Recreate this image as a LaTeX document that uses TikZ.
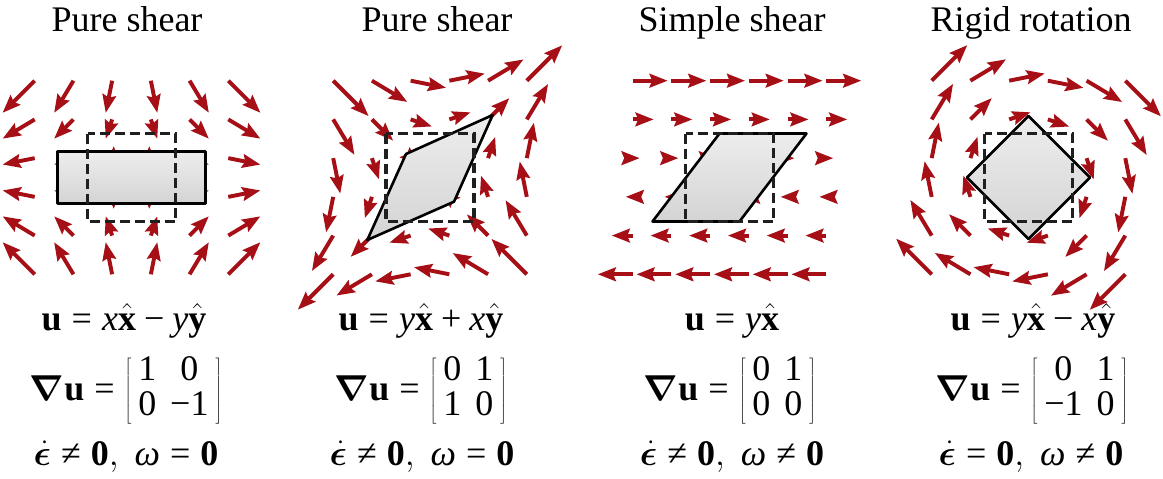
\RequirePackage{fix-cm}
\documentclass[tikz,border=0pt]{standalone}
\usepackage{bm}
\usepackage{fontspec}
\setmainfont{Liberation Serif}
\usetikzlibrary{arrows.meta}
\definecolor{arrred}{RGB}{165,15,21}
\newcommand\bigtxt{\fontsize{36}{43}\selectfont}
\newcommand\meq{\mathrel{\mbox{=}}}
\newcommand\mne{\mathrel{\mbox{≠}}}
\newcommand\mmi{\mathbin{\mbox{−}}}
\newcommand\mpl{\mathbin{\mbox{+}}}
\tikzset{
  vec/.style={draw=arrred, line width=3.9pt, -{Stealth[length=18pt,width=13.5pt,inset=2.5pt]}},
  body/.style={draw=black, line width=2.6pt, line join=round, top color=gray!14, bottom color=gray!34},
  refsq/.style={draw=black!88, line width=3.6pt, dash pattern=on 10pt off 5pt},
  ttl/.style={anchor=base, inner sep=0pt, font=\bigtxt},
  eqn/.style={anchor=base, inner sep=0pt, font=\bigtxt},
}
% vector field: #1 cx, #2 cy, #3 scale, #4 ux, #5 uy (in terms of \X, \Y)
\newcommand\vfield[5]{%
  \foreach \X in {-2.2,-1.32,-0.44,0.44,1.32,2.2}{%
    \foreach \Y in {-2.2,-1.32,-0.44,0.44,1.32,2.2}{%
      \pgfmathsetmacro\tx{#1+44*\X}%
      \pgfmathsetmacro\ty{#2-44*\Y}%
      \pgfmathsetmacro\hx{\tx+#3*(#4)}%
      \pgfmathsetmacro\hy{\ty-#3*(#5)}%
      \draw[vec] (\tx,\ty) -- (\hx,\hy);
    }}}
\newcommand\mtx[4]{{\renewcommand\arraystretch{0.8}\setlength\arraycolsep{7pt}\left[\begin{array}{cc}#1&#2\\#3&#4\end{array}\right]}}
\begin{document}
\begin{tikzpicture}[x=1pt,y=-1pt]
\useasboundingbox (0,0) rectangle (1163,479);
% titles
\node[ttl] (t1) at (127,31) {Pure shear};
\node[ttl] (t2) at (437,31) {Pure shear};
\node[ttl] (t3) at (732,31) {Simple shear};
\node[ttl] (t4) at (1031,31) {Rigid rotation};
% panel 1: pure shear u = x x - y y
\vfield{131.5}{177.5}{14.6}{\X}{-(\Y)}
\draw[body] (57.5,151.5) rectangle (205.5,203.5);
\draw[refsq] (87.5,133.5) rectangle (175.5,221.5);
% panel 2: u = y x + x y
\vfield{430}{177.5}{16.1}{\Y}{\X}
\draw[body] (492.7,115) -- (406,154) -- (367.3,240) -- (454,201.7) -- cycle;
\draw[refsq] (386,133.5) rectangle (474,221.5);
% panel 3: simple shear u = y x
\vfield{729.5}{177.5}{15.9}{\Y}{0}
\draw[body] (719.5,133.5) -- (806.5,133.5) -- (739.5,221.5) -- (652.5,221.5) -- cycle;
\draw[refsq] (685.5,133.5) rectangle (773.5,221.5);
% panel 4: rigid rotation u = y x - x y
\vfield{1028.5}{177.5}{16.2}{\Y}{-(\X)}
\draw[body] (1028.5,116) -- (1090,177.5) -- (1028.5,239) -- (967,177.5) -- cycle;
\draw[refsq] (984.5,133.5) rectangle (1072.5,221.5);
% equations
\node[eqn] (u1) at (124,330) {$\textbf{u} \meq \textit{x}\hat{\textbf{x}} \mmi \textit{y}\hat{\textbf{y}}$};
\node[eqn] (u2) at (421,330) {$\textbf{u} \meq \textit{y}\hat{\textbf{x}} \mpl \textit{x}\hat{\textbf{y}}$};
\node[eqn] (u3) at (732,330) {$\textbf{u} \meq \textit{y}\hat{\textbf{x}}$};
\node[eqn] (u4) at (1033,330) {$\textbf{u} \meq \textit{y}\hat{\textbf{x}} \mmi \textit{x}\hat{\textbf{y}}$};
\node[eqn] (g1) at (126,400) {$\bm{\nabla}\textbf{u} \meq \mtx{\mbox{1}}{\mbox{0}}{\mbox{0}}{\mbox{−1}}$};
\node[eqn] (g2) at (421,400) {$\bm{\nabla}\textbf{u} \meq \mtx{\mbox{0}}{\mbox{1}}{\mbox{1}}{\mbox{0}}$};
\node[eqn] (g3) at (730,400) {$\bm{\nabla}\textbf{u} \meq \mtx{\mbox{0}}{\mbox{1}}{\mbox{0}}{\mbox{0}}$};
\node[eqn] (g4) at (1032,400) {$\bm{\nabla}\textbf{u} \meq \mtx{\mbox{0}}{\mbox{1}}{\mbox{−1}}{\mbox{0}}$};
\node[eqn] (e1) at (126,465) {$\dot{\bm{\epsilon}} \mne \textbf{0},\; \textit{ω} \meq \textbf{0}$};
\node[eqn] (e2) at (422,465) {$\dot{\bm{\epsilon}} \mne \textbf{0},\; \textit{ω} \meq \textbf{0}$};
\node[eqn] (e3) at (732,465) {$\dot{\bm{\epsilon}} \mne \textbf{0},\; \textit{ω} \mne \textbf{0}$};
\node[eqn] (e4) at (1031,465) {$\dot{\bm{\epsilon}} \meq \textbf{0},\; \textit{ω} \mne \textbf{0}$};
\end{tikzpicture}
\end{document}
